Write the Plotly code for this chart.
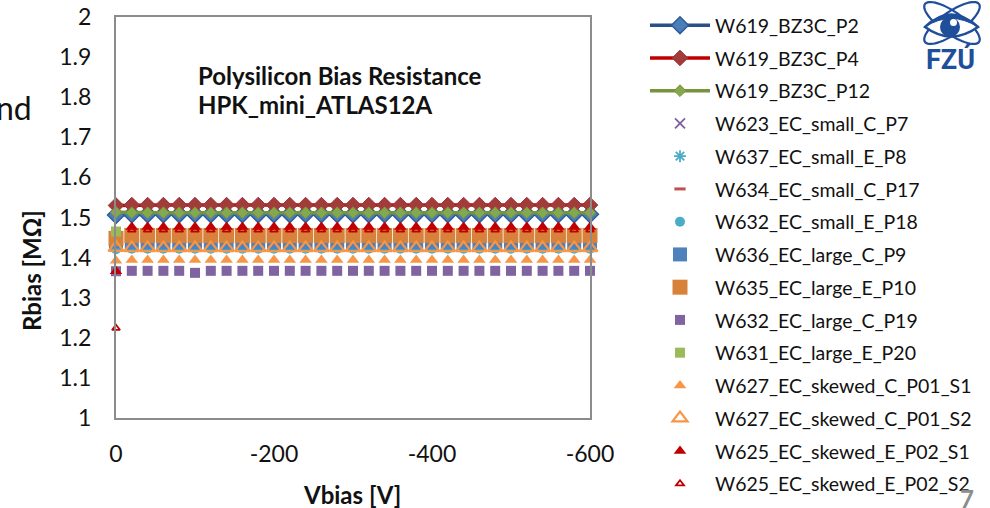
import numpy as np
import plotly.graph_objects as go

# ---- data -------------------------------------------------------------
vbias = [0, -20, -40, -60, -80, -100, -120, -140, -160, -180, -200,
         -220, -240, -260, -280, -300, -320, -340, -360, -380, -400,
         -420, -440, -460, -480, -500, -520, -540, -560, -580, -600]

w619_p2 = [1.506, 1.508, 1.508, 1.508, 1.508, 1.508, 1.508, 1.508, 1.508, 1.508, 1.508,
           1.508, 1.508, 1.508, 1.508, 1.508, 1.508, 1.508, 1.508, 1.508, 1.508,
           1.508, 1.508, 1.508, 1.508, 1.508, 1.508, 1.508, 1.508, 1.508, 1.508]
w619_p4 = [1.530, 1.531, 1.531, 1.531, 1.531, 1.531, 1.531, 1.531, 1.531, 1.531, 1.531,
           1.531, 1.531, 1.531, 1.531, 1.531, 1.531, 1.531, 1.531, 1.531, 1.531,
           1.531, 1.531, 1.531, 1.531, 1.531, 1.531, 1.531, 1.531, 1.531, 1.531]
w619_p12 = [1.513, 1.512, 1.512, 1.512, 1.512, 1.512, 1.512, 1.512, 1.512, 1.512, 1.512,
            1.512, 1.512, 1.512, 1.512, 1.512, 1.512, 1.512, 1.512, 1.512, 1.512,
            1.512, 1.512, 1.512, 1.512, 1.512, 1.512, 1.512, 1.512, 1.512, 1.512]
w623_p7 = [1.430, 1.431, 1.431, 1.431, 1.431, 1.431, 1.431, 1.431, 1.431, 1.431, 1.431,
           1.431, 1.431, 1.431, 1.431, 1.431, 1.431, 1.431, 1.431, 1.431, 1.431,
           1.431, 1.431, 1.431, 1.431, 1.431, 1.431, 1.431, 1.431, 1.431, 1.431]
w637_p8 = [1.434, 1.435, 1.435, 1.435, 1.435, 1.435, 1.435, 1.435, 1.435, 1.435, 1.435,
           1.435, 1.435, 1.435, 1.435, 1.435, 1.435, 1.435, 1.435, 1.435, 1.435,
           1.435, 1.435, 1.435, 1.435, 1.435, 1.435, 1.435, 1.435, 1.435, 1.435]
w634_p17 = [1.424, 1.425, 1.425, 1.425, 1.425, 1.425, 1.425, 1.425, 1.425, 1.425, 1.425,
            1.425, 1.425, 1.425, 1.425, 1.425, 1.425, 1.425, 1.425, 1.425, 1.425,
            1.425, 1.425, 1.425, 1.425, 1.425, 1.425, 1.425, 1.425, 1.425, 1.425]
w632_p18 = [1.421, 1.422, 1.422, 1.422, 1.422, 1.422, 1.422, 1.422, 1.422, 1.422, 1.422,
            1.422, 1.422, 1.422, 1.422, 1.422, 1.422, 1.422, 1.422, 1.422, 1.422,
            1.422, 1.422, 1.422, 1.422, 1.422, 1.422, 1.422, 1.422, 1.422, 1.422]
w636_p9 = [1.440, 1.438, 1.438, 1.438, 1.438, 1.438, 1.438, 1.438, 1.438, 1.438, 1.438,
           1.438, 1.438, 1.438, 1.438, 1.438, 1.438, 1.438, 1.438, 1.438, 1.438,
           1.438, 1.438, 1.438, 1.438, 1.438, 1.438, 1.438, 1.438, 1.438, 1.438]
w635_p10 = [1.448, 1.455, 1.455, 1.455, 1.455, 1.455, 1.455, 1.455, 1.455, 1.455, 1.455,
            1.455, 1.455, 1.455, 1.455, 1.455, 1.455, 1.455, 1.455, 1.455, 1.455,
            1.455, 1.455, 1.455, 1.455, 1.455, 1.455, 1.455, 1.455, 1.455, 1.455]
w632_p19 = [1.366, 1.367, 1.367, 1.367, 1.367, 1.362, 1.367, 1.367, 1.367, 1.367, 1.367,
            1.367, 1.367, 1.367, 1.367, 1.367, 1.367, 1.367, 1.367, 1.367, 1.367,
            1.367, 1.367, 1.367, 1.367, 1.367, 1.367, 1.367, 1.367, 1.367, 1.367]
w631_vbias = [0]
w631_p20 = [1.465]
w627_s1 = [1.392, 1.394, 1.394, 1.394, 1.394, 1.394, 1.394, 1.394, 1.394, 1.394, 1.394,
           1.394, 1.394, 1.394, 1.394, 1.394, 1.394, 1.394, 1.394, 1.394, 1.394,
           1.394, 1.394, 1.394, 1.394, 1.394, 1.394, 1.394, 1.394, 1.394, 1.394]
w627_s2 = [1.425, 1.424, 1.424, 1.424, 1.424, 1.424, 1.424, 1.424, 1.424, 1.424, 1.424,
           1.424, 1.424, 1.424, 1.424, 1.424, 1.424, 1.424, 1.424, 1.424, 1.424,
           1.424, 1.424, 1.424, 1.424, 1.424, 1.424, 1.424, 1.424, 1.424, 1.424]
w625_s1 = [1.366, 1.476, 1.476, 1.476, 1.476, 1.476, 1.476, 1.476, 1.476, 1.476, 1.476,
           1.476, 1.476, 1.476, 1.476, 1.476, 1.476, 1.476, 1.476, 1.476, 1.476,
           1.476, 1.476, 1.476, 1.476, 1.476, 1.476, 1.476, 1.476, 1.476, 1.476]
w625_s2 = [1.224, 1.469, 1.469, 1.469, 1.469, 1.469, 1.469, 1.469, 1.469, 1.469, 1.469,
           1.469, 1.469, 1.469, 1.469, 1.469, 1.469, 1.469, 1.469, 1.469, 1.469,
           1.469, 1.469, 1.469, 1.469, 1.469, 1.469, 1.469, 1.469, 1.469, 1.469]

x_ticks = [0, -200, -400, -600]
x_ticktext = ["0", "-200", "-400", "-600"]
y_ticks = [1, 1.1, 1.2, 1.3, 1.4, 1.5, 1.6, 1.7, 1.8, 1.9, 2]
y_ticktext = ["1", "1.1", "1.2", "1.3", "1.4", "1.5", "1.6", "1.7", "1.8", "1.9", "2"]

# ---- layout geometry (pixels) ----------------------------------------
W, H = 990, 508
L, R, T, B = 116, 590, 17, 418
FONT = "Lato"


def px(x):
    return (x - L) / (R - L)


def py(y):
    return (B - y) / (B - T)


fig = go.Figure()


def add(name, x, y, mode, marker, line=None):
    fig.add_trace(go.Scatter(
        x=x, y=y, name=name, mode=mode, marker=marker, line=line,
        legendgroup=name, cliponaxis=False, showlegend=True,
    ))


add("W619_BZ3C_P2", vbias, w619_p2, "lines+markers",
    dict(symbol="diamond", size=13, color="#4A7EBB", line=dict(color="#2E5C96", width=1.5)),
    dict(color="#2B4F86", width=3.5))
add("W619_BZ3C_P4", vbias, w619_p4, "lines+markers",
    dict(symbol="diamond", size=12, color="#A33B3A", line=dict(color="#953735", width=1)),
    dict(color="#C00000", width=3.5))
add("W619_BZ3C_P12", vbias, w619_p12, "lines+markers",
    dict(symbol="diamond", size=9, color="#86A84C", line=dict(color="#77933C", width=1)),
    dict(color="#77933C", width=3.5))
add("W623_EC_small_C_P7", vbias, w623_p7, "markers",
    dict(symbol="x-thin-open", size=10, color="#7D60A0", line=dict(color="#7D60A0", width=1.8)))
add("W637_EC_small_E_P8", vbias, w637_p8, "markers",
    dict(symbol="asterisk-open", size=10, color="#4BACC6", line=dict(color="#4BACC6", width=1.8)))
add("W634_EC_small_C_P17", vbias, w634_p17, "markers",
    dict(symbol="line-ew-open", size=8, color="#C0504D", line=dict(color="#C0504D", width=3)))
add("W632_EC_small_E_P18", vbias, w632_p18, "markers",
    dict(symbol="circle", size=10, color="#4BACC6", line=dict(width=0)))
add("W636_EC_large_C_P9", vbias, w636_p9, "markers",
    dict(symbol="square", size=14, color="#4F81BD", line=dict(width=0)))
add("W635_EC_large_E_P10", vbias, w635_p10, "markers",
    dict(symbol="square", size=15, color="#D8813A", line=dict(width=0)))
add("W632_EC_large_C_P19", vbias, w632_p19, "markers",
    dict(symbol="square", size=10, color="#8064A2", line=dict(width=0)))
add("W631_EC_large_E_P20", w631_vbias, w631_p20, "markers",
    dict(symbol="square", size=10, color="#9BBB59", line=dict(width=0)))
add("W627_EC_skewed_C_P01_S1", vbias, w627_s1, "markers",
    dict(symbol="triangle-up", size=11, color="#F79646", line=dict(width=0)))
add("W627_EC_skewed_C_P01_S2", vbias, w627_s2, "markers",
    dict(symbol="triangle-up-open", size=13, color="#F79646", line=dict(color="#F79646", width=2.2)))
add("W625_EC_skewed_E_P02_S1", vbias, w625_s1, "markers",
    dict(symbol="triangle-up", size=11, color="#C00000", line=dict(width=0)))
add("W625_EC_skewed_E_P02_S2", vbias, w625_s2, "markers",
    dict(symbol="triangle-up-open", size=7, color="#C00000", line=dict(color="#C00000", width=1.8)))

axis_common = dict(
    showgrid=False, zeroline=False, showline=True, mirror=True,
    linecolor="#8C8C8C", linewidth=2, ticks="",
    tickfont=dict(family=FONT, size=23, color="#111111"),
)

fig.update_layout(
    width=W, height=H,
    margin=dict(l=L, r=W - R, t=T, b=H - B, pad=0, autoexpand=False),
    paper_bgcolor="white", plot_bgcolor="white",
    font=dict(family=FONT, color="#111111"),
    showlegend=True,
    legend=dict(
        x=px(645), y=1 - 6 / H, xanchor="left", yanchor="top",
        yref="container", maxheight=1,
        font=dict(family=FONT, size=19.5, color="#111111"),
        tracegroupgap=4.4, itemwidth=60, bgcolor="rgba(0,0,0,0)",
        traceorder="grouped",
    ),
    xaxis=dict(range=[0, -600], tickvals=x_ticks, ticktext=x_ticktext,
               ticklabelstandoff=14, **axis_common),
    yaxis=dict(range=[1, 2], tickvals=y_ticks, ticktext=y_ticktext,
               ticklabelstandoff=18, **axis_common),
)

annotations = [
    dict(text="<b>Polysilicon Bias Resistance</b>", x=px(196), y=py(75),
         xanchor="left", yanchor="middle", font=dict(size=24)),
    dict(text="<b>HPK_mini_ATLAS12A</b>", x=px(196), y=py(104),
         xanchor="left", yanchor="middle", font=dict(size=24)),
    dict(text="<b>Rbias [MΩ]</b>", x=px(31), y=py(271), textangle=-90,
         xanchor="center", yanchor="middle", font=dict(size=24)),
    dict(text="<b>Vbias [V]</b>", x=px(352), y=py(494),
         xanchor="center", yanchor="middle", font=dict(size=24)),
    dict(text="nd", x=px(-6), y=py(108), xanchor="left", yanchor="middle",
         font=dict(size=32, color="#111111")),
    dict(text="<b>7</b>", x=px(967), y=py(482), xanchor="center", yanchor="top",
         font=dict(size=24, color="#8C8C8C")),
    dict(text="<b>FZÚ</b>", x=px(950), y=py(60), xanchor="center", yanchor="middle",
         font=dict(family="Roboto", size=27, color="#1F4E9A")),
]
for a in annotations:
    a.update(xref="paper", yref="paper", showarrow=False)
    a.setdefault("font", {})
    a["font"].setdefault("family", FONT)
    a["font"].setdefault("color", "#111111")
fig.update_layout(annotations=annotations)

# ---- institute logo: eye with two orbits ----------------------------
logo_blue = "#1F4E9A"


def ellipse_path(cx, cy, rx, ry, angle_deg, n=60):
    t = np.linspace(0, 2 * np.pi, n)
    a = np.deg2rad(angle_deg)
    xs = cx + rx * np.cos(t) * np.cos(a) - ry * np.sin(t) * np.sin(a)
    ys = cy + rx * np.cos(t) * np.sin(a) + ry * np.sin(t) * np.cos(a)
    pts = [f"{px(xv):.5f},{py(yv):.5f}" for xv, yv in zip(xs, ys)]
    return "M" + " L".join(pts) + " Z"


shapes = []
for ang in (35, -35):
    shapes.append(dict(type="path", path=ellipse_path(952, 23, 33, 11, ang),
                       line=dict(color=logo_blue, width=2.2), fillcolor="rgba(0,0,0,0)"))
# almond-shaped eye: heavy upper lid, thin lower lid
eye = (f"M{px(925):.5f},{py(27):.5f} "
       f"Q{px(951):.5f},{py(2):.5f} {px(978):.5f},{py(27):.5f} "
       f"Q{px(951):.5f},{py(46):.5f} {px(925):.5f},{py(27):.5f} Z")
shapes.append(dict(type="path", path=eye, fillcolor="white", line=dict(color=logo_blue, width=2.5)))
upper_lid = (f"M{px(925):.5f},{py(27):.5f} "
             f"Q{px(951):.5f},{py(2):.5f} {px(978):.5f},{py(27):.5f} "
             f"Q{px(951):.5f},{py(10):.5f} {px(925):.5f},{py(27):.5f} Z")
shapes.append(dict(type="path", path=upper_lid, fillcolor=logo_blue, line=dict(color=logo_blue, width=1)))
shapes.append(dict(type="circle", x0=px(940), x1=px(960), y0=py(37), y1=py(17),
                   fillcolor=logo_blue, line=dict(width=0)))
shapes.append(dict(type="circle", x0=px(950), x1=px(957), y0=py(26), y1=py(19),
                   fillcolor="white", line=dict(width=0)))
for s in shapes:
    s.update(xref="paper", yref="paper", layer="above")
fig.update_layout(shapes=shapes)

fig.write_html("out.html")
